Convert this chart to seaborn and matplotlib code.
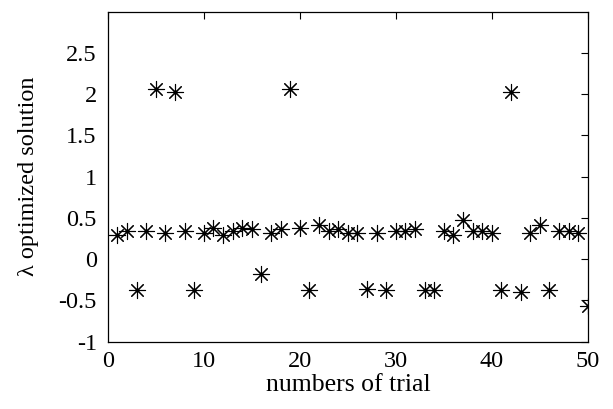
import numpy as np
import pandas as pd
import seaborn as sns
import matplotlib
matplotlib.use('Agg')
import matplotlib.pyplot as plt

# data
trial = list(range(1, 51))
lam = [0.29, 0.34, -0.38, 0.34, 2.07, 0.32, 2.03, 0.34, -0.38, 0.32,
       0.38, 0.29, 0.34, 0.38, 0.36, -0.18, 0.32, 0.36, 2.07, 0.38,
       -0.38, 0.41, 0.34, 0.36, 0.32, 0.32, -0.36, 0.32, -0.38, 0.34,
       0.34, 0.36, -0.38, -0.38, 0.34, 0.29, 0.48, 0.34, 0.34, 0.32,
       -0.38, 2.03, -0.40, 0.32, 0.41, -0.38, 0.34, 0.34, 0.32, -0.57]
xticks = [0, 10, 20, 30, 40, 50]
yticks = [-1, -0.5, 0, 0.5, 1, 1.5, 2, 2.5]

df = pd.DataFrame({'trial': trial, 'lam': lam})

sns.set_style('white')
plt.rcParams['font.family'] = ['Liberation Serif', 'DejaVu Serif']
plt.rcParams['text.color'] = 'black'
plt.rcParams['axes.labelcolor'] = 'black'

fig = plt.figure(figsize=(6.13, 4.09), dpi=100)
ax = fig.add_axes([0.176, 0.165, 0.783, 0.806])

sns.scatterplot(data=df, x='trial', y='lam', marker=(8, 2, 0), s=135,
                color='black', edgecolor='black', linewidth=0.8, ax=ax, zorder=3)
sns.scatterplot(data=df, x='trial', y='lam', marker='o', s=7,
                color='black', edgecolor='black', linewidth=0, ax=ax, zorder=4)

ax.set_xlim(0, 50)
ax.set_ylim(-1, 3)
ax.set_xticks(xticks)
ax.set_yticks(yticks)
ax.set_yticklabels([f'{v:g}' for v in yticks])
ax.tick_params(direction='in', top=True, right=True, length=5, width=0.8,
               labelsize=17.5, colors='black')
ax.tick_params(axis='x', pad=7)
ax.tick_params(axis='y', pad=8)
for sp in ax.spines.values():
    sp.set_visible(True)
    sp.set_color('black')
    sp.set_linewidth(0.9)

ax.set_xlabel('numbers of trial', fontsize=18.5, labelpad=1, color='black')
ax.set_ylabel('λ optimized solution', fontsize=17.5, labelpad=14, color='black')

fig.savefig('out.png', dpi=100, facecolor='white')
